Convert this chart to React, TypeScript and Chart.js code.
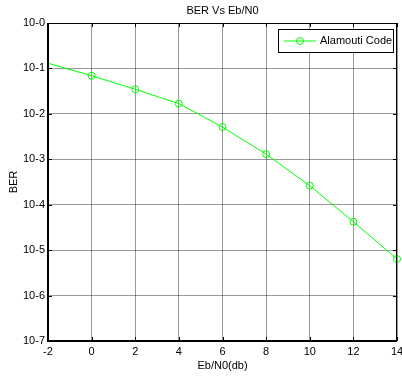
import React, { useEffect, useRef } from "react";
import { Chart, registerables } from "chart.js";

Chart.register(...registerables);

const chartTitle = "BER Vs Eb/N0";
const xAxisTitle = "Eb/N0(db)";
const yAxisTitle = "BER";
const seriesLabel = "Alamouti Code";

const ebN0 = [-2, 0, 2, 4, 6, 8, 10, 12, 14];
const ber = [0.13, 0.069, 0.0347, 0.0168, 0.00514, 0.0013, 0.000262, 0.0000423, 0.00000638];
// the point at -2 is where the curve enters the axes (no marker shown)
const markerShown = [false, true, true, true, true, true, true, true, true];

const yTickValues = [1, 1e-1, 1e-2, 1e-3, 1e-4, 1e-5, 1e-6, 1e-7];
const yTickLabels = ["10-0", "10-1", "10-2", "10-3", "10-4", "10-5", "10-6", "10-7"];
const xTickValues = [-2, 0, 2, 4, 6, 8, 10, 12, 14];

const FONT = "'Liberation Sans', Arial, sans-serif";

const framePlugin = {
  id: "frame",
  afterDraw(chart: any) {
    const { ctx, chartArea: a, scales } = chart;
    ctx.save();
    // title
    ctx.fillStyle = "#000";
    ctx.font = `11px ${FONT}`;
    ctx.textAlign = "center";
    ctx.textBaseline = "middle";
    ctx.fillText(chartTitle, (a.left + a.right) / 2, 11);
    // inward tick marks
    ctx.strokeStyle = "#000";
    ctx.lineWidth = 1;
    const tl = 4;
    ctx.beginPath();
    for (const v of yTickValues) {
      const y = Math.round(scales.y.getPixelForValue(v)) + 0.5;
      ctx.moveTo(a.left, y);
      ctx.lineTo(a.left + tl, y);
      ctx.moveTo(a.right, y);
      ctx.lineTo(a.right - tl, y);
    }
    for (const v of xTickValues) {
      const x = Math.round(scales.x.getPixelForValue(v)) + 0.5;
      ctx.moveTo(x, a.bottom);
      ctx.lineTo(x, a.bottom - tl);
      ctx.moveTo(x, a.top);
      ctx.lineTo(x, a.top + tl);
    }
    ctx.stroke();
    // frame
    ctx.lineWidth = 1;
    ctx.beginPath();
    ctx.moveTo(a.left, a.top + 0.5);
    ctx.lineTo(a.right, a.top + 0.5);
    ctx.moveTo(a.right - 0.5, a.top);
    ctx.lineTo(a.right - 0.5, a.bottom);
    ctx.stroke();
    ctx.lineWidth = 2;
    ctx.beginPath();
    ctx.moveTo(a.left, a.top);
    ctx.lineTo(a.left, a.bottom);
    ctx.lineTo(a.right, a.bottom);
    ctx.stroke();
    // legend box
    const bx = a.right - 119;
    const by = a.top + 6;
    const bw = 115;
    const bh = 23;
    ctx.fillStyle = "#fff";
    ctx.fillRect(bx, by, bw, bh);
    ctx.lineWidth = 1;
    ctx.strokeStyle = "#000";
    ctx.strokeRect(bx + 0.5, by + 0.5, bw, bh);
    const ds = chart.data.datasets[0];
    const cy = by + bh / 2 + 0.5;
    ctx.strokeStyle = ds.borderColor;
    ctx.beginPath();
    ctx.moveTo(bx + 6, cy);
    ctx.lineTo(bx + 38, cy);
    ctx.stroke();
    ctx.beginPath();
    ctx.arc(bx + 22, cy, 3.5, 0, Math.PI * 2);
    ctx.stroke();
    ctx.fillStyle = "#000";
    ctx.font = `11px ${FONT}`;
    ctx.textAlign = "left";
    ctx.textBaseline = "middle";
    ctx.fillText(ds.label, bx + 42, cy);
    ctx.restore();
  },
};

export default function App() {
  const ref = useRef<HTMLCanvasElement>(null);
  useEffect(() => {
    document.body.style.margin = "0";
    const chart = new Chart(ref.current!, {
      type: "line",
      data: {
        datasets: [
          {
            label: seriesLabel,
            data: ebN0.map((x, i) => ({ x, y: ber[i] })),
            borderColor: "#00ff00",
            backgroundColor: "rgba(0,0,0,0)",
            borderWidth: 1,
            pointStyle: "circle",
            pointRadius: (c: any) => (markerShown[c.dataIndex] ? 3.5 : 0),
            pointBorderColor: "#00ff00",
            pointBorderWidth: 1,
            pointBackgroundColor: "rgba(0,0,0,0)",
            tension: 0,
            clip: false,
          },
        ],
      },
      options: {
        responsive: false,
        animation: false,
        layout: { padding: { top: 23, right: 5, left: 0, bottom: 0 } },
        plugins: { legend: { display: false }, title: { display: false }, tooltip: { enabled: false } },
        scales: {
          x: {
            type: "linear",
            min: -2,
            max: 14,
            afterFit: (s: any) => {
              s.height = 35;
              s.paddingLeft = 0;
              s.paddingRight = 0;
            },
            afterBuildTicks: (s: any) => {
              s.ticks = xTickValues.map((v) => ({ value: v }));
            },
            ticks: {
              color: "#000",
              font: { family: FONT, size: 11 },
              padding: 4,
              maxRotation: 0,
              autoSkip: false,
            },
            grid: { color: "rgba(0,0,0,0.4)", lineWidth: 1, drawTicks: false },
            border: { display: false },
            title: {
              display: true,
              text: xAxisTitle,
              color: "#000",
              font: { family: FONT, size: 11 },
              padding: { top: 0, bottom: 3 },
            },
          },
          y: {
            type: "logarithmic",
            min: 1e-7,
            max: 1,
            afterFit: (s: any) => {
              s.width = 48;
              s.paddingTop = 0;
              s.paddingBottom = 0;
            },
            afterBuildTicks: (s: any) => {
              s.ticks = yTickValues.map((v) => ({ value: v }));
            },
            ticks: {
              color: "#000",
              font: { family: FONT, size: 11 },
              padding: 3,
              autoSkip: false,
              callback: (v: any) => {
                const i = yTickValues.findIndex((t) => Math.abs(Math.log10(t) - Math.log10(v)) < 1e-6);
                return i >= 0 ? yTickLabels[i] : "";
              },
            },
            grid: { color: "rgba(0,0,0,0.4)", lineWidth: 1, drawTicks: false },
            border: { display: false },
            title: {
              display: true,
              text: yAxisTitle,
              color: "#000",
              font: { family: FONT, size: 11 },
              padding: { top: 7, bottom: 0 },
            },
          },
        },
      },
      plugins: [framePlugin],
    });
    return () => chart.destroy();
  }, []);
  return (
    <div style={{ width: 402, height: 376, background: "#fff" }}>
      <canvas ref={ref} width={402} height={376} />
    </div>
  );
}
